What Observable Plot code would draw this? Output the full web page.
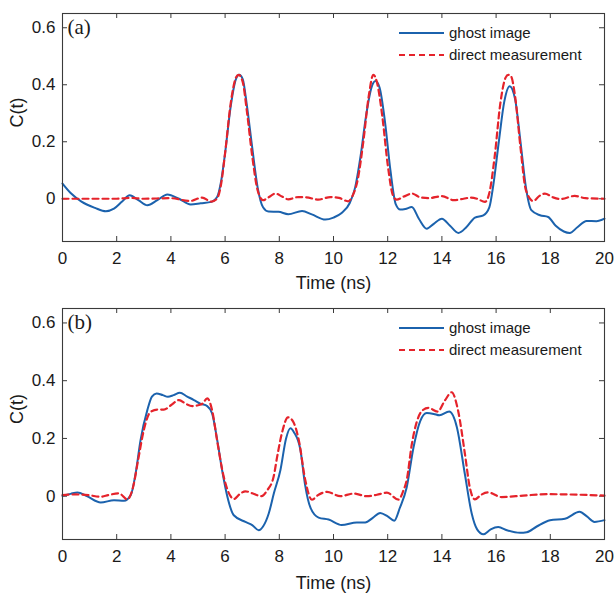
<!DOCTYPE html>
<html>
<head>
<meta charset="utf-8">
<script src="https://cdn.jsdelivr.net/npm/d3@7"></script>
<script src="https://cdn.jsdelivr.net/npm/@observablehq/plot@0.6"></script>
<style>
  html, body { margin: 0; padding: 0; background: #fff; }
  #chart { width: 616px; height: 594px; }
  #chart svg { display: block; }
</style>
</head>
<body>
<div id="chart"></div>
<script>
// ---------- data ----------
const xTicks = [0, 2, 4, 6, 8, 10, 12, 14, 16, 18, 20];
const yTicks = [0, 0.2, 0.4, 0.6];
const seriesNames = ["ghost image", "direct measurement"];
const panelLabels = ["(a)", "(b)"];

// Panel (a) ghost image
const tA_ghost = [0,0.3,0.7,1.2,1.6,1.9,2.2,2.48,2.8,3.13,3.5,3.87,4.3,4.73,5.1,5.5,5.7,5.85,6.0,6.2,6.4,6.52,6.65,6.8,7.0,7.2,7.4,7.6,7.97,8.33,8.84,9.2,9.7,10.0,10.3,10.6,10.8,11.0,11.2,11.4,11.55,11.7,11.9,12.1,12.3,12.46,12.65,12.89,13.15,13.44,13.7,14.0,14.3,14.61,14.9,15.22,15.53,15.75,15.9,16.1,16.3,16.5,16.7,16.9,17.1,17.3,17.62,17.92,18.2,18.5,18.72,19.0,19.34,19.7,20];
const vA_ghost = [0.053,0.02,-0.01,-0.032,-0.044,-0.035,-0.01,0.012,-0.005,-0.023,-0.005,0.015,0.0,-0.02,-0.016,-0.011,0.005,0.06,0.16,0.32,0.42,0.435,0.42,0.33,0.18,0.04,-0.03,-0.045,-0.046,-0.054,-0.043,-0.055,-0.073,-0.066,-0.05,-0.015,0.04,0.15,0.29,0.39,0.413,0.39,0.27,0.1,-0.02,-0.038,-0.036,-0.029,-0.07,-0.105,-0.088,-0.07,-0.095,-0.12,-0.1,-0.066,-0.058,-0.03,0.05,0.2,0.34,0.395,0.35,0.2,0.04,-0.04,-0.058,-0.064,-0.095,-0.115,-0.12,-0.1,-0.078,-0.079,-0.07];

// Panel (a) direct measurement
const tA_direct = [0,1,2,2.5,3,4,4.7,5.15,5.5,5.7,5.85,6.0,6.2,6.4,6.5,6.65,6.8,7.0,7.2,7.4,7.6,7.86,8.1,8.33,8.7,9.0,9.44,9.88,10.2,10.54,10.7,10.9,11.1,11.3,11.47,11.6,11.8,12.0,12.2,12.33,12.6,12.9,13.2,13.5,14.0,14.44,14.8,15.06,15.3,15.59,15.75,15.95,16.15,16.35,16.45,16.55,16.7,16.9,17.1,17.37,17.6,17.8,18.1,18.38,18.9,19.3,20];
const vA_direct = [0,0,0,0.003,0,0.002,-0.008,0.004,-0.01,0.0,0.05,0.16,0.33,0.425,0.435,0.41,0.31,0.15,0.03,-0.005,0.005,0.018,0.008,-0.002,0.006,0.005,-0.003,0.006,0.003,-0.009,0.01,0.07,0.2,0.36,0.435,0.41,0.29,0.12,0.01,-0.003,0.008,0.018,0.005,0.002,0.009,-0.005,0,0.004,0.0,-0.011,0.02,0.15,0.33,0.425,0.435,0.43,0.36,0.18,0.03,-0.008,0.01,0.018,0.005,-0.001,0.01,0.002,0];

// Panel (b) ghost image
const tB_ghost = [0,0.3,0.55,0.9,1.41,1.9,2.27,2.52,2.7,2.88,3.13,3.3,3.47,3.7,3.89,4.1,4.33,4.6,4.85,5.1,5.34,5.52,5.71,5.89,6.08,6.32,6.75,7.0,7.24,7.4,7.61,7.8,8.04,8.25,8.41,8.55,8.78,8.95,9.15,9.45,9.82,10.3,10.86,11.17,11.45,11.72,12.0,12.24,12.45,12.7,12.95,13.2,13.44,13.7,13.91,14.27,14.55,14.85,15.1,15.3,15.53,15.8,16.08,16.4,16.88,17.13,17.5,17.99,18.54,19.08,19.35,19.63,20];
const vB_ghost = [0.001,0.008,0.013,0.0,-0.022,-0.014,-0.016,0.004,0.08,0.194,0.298,0.345,0.356,0.35,0.344,0.35,0.358,0.345,0.333,0.32,0.312,0.287,0.194,0.09,0.0,-0.066,-0.089,-0.1,-0.118,-0.105,-0.06,0.01,0.09,0.2,0.235,0.22,0.16,0.04,-0.04,-0.074,-0.081,-0.1,-0.091,-0.091,-0.075,-0.058,-0.07,-0.085,-0.04,0.03,0.168,0.26,0.288,0.285,0.28,0.293,0.24,0.075,-0.06,-0.115,-0.132,-0.115,-0.107,-0.118,-0.127,-0.125,-0.105,-0.083,-0.078,-0.054,-0.07,-0.089,-0.083];

// Panel (b) direct measurement
const tB_direct = [0,0.5,1.0,1.4,1.7,2.08,2.39,2.6,2.8,3.0,3.25,3.5,3.74,4.0,4.3,4.55,4.79,5.0,5.16,5.34,5.52,5.71,5.95,6.2,6.32,6.55,6.75,7.0,7.35,7.55,7.79,7.92,8.1,8.32,8.5,8.72,8.96,9.2,9.45,9.76,10.25,10.74,11.23,11.6,11.97,12.4,12.58,12.7,12.89,13.26,13.5,13.84,14.12,14.36,14.6,14.85,15.03,15.22,15.45,15.71,16.2,17,17.86,19.08,20];
const vB_direct = [0.004,0.006,0.003,-0.002,0.004,0.01,-0.011,0.03,0.13,0.229,0.292,0.3,0.3,0.315,0.333,0.32,0.312,0.315,0.32,0.339,0.298,0.19,0.067,0.0,-0.01,0.008,0.017,0.01,0.0,0.02,0.067,0.136,0.22,0.273,0.26,0.194,0.055,-0.012,0.005,0.015,0.0,0.009,0.0,0.005,0.012,-0.012,0.02,0.055,0.18,0.295,0.306,0.293,0.333,0.36,0.295,0.146,0.03,-0.011,0.005,0.013,-0.003,0.002,0.007,0.005,0.002];

// ---------- styles ----------
const BLUE = "#1b62ad";
const RED = "#e5232b";
const AXIS = "#3a3a3a";
const FONT = "'Liberation Sans', Arial, sans-serif";

function toRows(ts, vs) { return ts.map((t, i) => ({t, v: vs[i]})); }

function panel(ghost, direct, label, opts) {
  const W = 616, H = 297;
  const mL = 62, mR = 12, mT = opts.mT, mB = opts.mB;
  const iw = W - mL - mR, ih = H - mT - mB, tk = 5;
  const plot = Plot.plot({
    width: W, height: H,
    marginLeft: mL, marginRight: mR, marginTop: mT, marginBottom: mB,
    style: {background: "#fff", fontFamily: FONT, color: "#1a1a1a", overflow: "visible"},
    x: {domain: [0, 20]},
    y: {domain: [-0.15, 0.65]},
    marks: [
      Plot.axisX(xTicks, {tickSize: 0, tickPadding: 10, fontSize: 17, label: null, tickFormat: d => String(d)}),
      Plot.axisY(yTicks, {tickSize: 0, tickPadding: 7, fontSize: 17, label: null, tickFormat: d => d === 0 ? "0" : d.toFixed(1)}),
      Plot.ruleX(xTicks.slice(1, -1), {insetTop: ih - tk, stroke: AXIS}),
      Plot.ruleX(xTicks.slice(1, -1), {insetBottom: ih - tk, stroke: AXIS}),
      Plot.ruleY(yTicks, {insetRight: iw - tk, stroke: AXIS}),
      Plot.ruleY(yTicks, {insetLeft: iw - tk, stroke: AXIS}),
      Plot.line(ghost, {x: "t", y: "v", curve: "monotone-x", stroke: BLUE, strokeWidth: 2}),
      Plot.line(direct, {x: "t", y: "v", curve: "monotone-x", stroke: RED, strokeWidth: 2.2, strokeDasharray: "6,4"}),
      Plot.frame({stroke: AXIS, strokeWidth: 1.1}),
      Plot.text(["Time (ns)"], {frameAnchor: "bottom", dy: opts.xLabelDy, fontSize: 18, lineAnchor: "middle", fill: "#1a1a1a"}),
      Plot.text(["C(t)"], {frameAnchor: "left", dx: -45, rotate: -90, fontSize: 18, lineAnchor: "middle", fill: "#1a1a1a"}),
      Plot.text([label], {frameAnchor: "top-left", dx: 5, dy: 14, textAnchor: "start", lineAnchor: "middle", fontSize: 21, fontFamily: "'Liberation Serif', 'DejaVu Serif', serif", fill: "#1a1a1a"})
    ]
  });
  // legend (inside, top right)
  const svg = d3.select(plot);
  const g = svg.append("g").attr("font-family", FONT).attr("font-size", 15).attr("fill", "#1a1a1a").attr("text-anchor", "start");
  const rows = [{name: seriesNames[0], stroke: BLUE, dash: null}, {name: seriesNames[1], stroke: RED, dash: "6,4"}];
  rows.forEach((r, i) => {
    const y = mT + 20 + i * 22;
    g.append("line").attr("x1", 399).attr("x2", 444).attr("y1", y).attr("y2", y)
      .attr("stroke", r.stroke).attr("stroke-width", 2).attr("stroke-dasharray", r.dash);
    g.append("text").attr("x", 449).attr("y", y).attr("dy", "0.35em").attr("text-anchor", "start").text(r.name);
  });
  return plot;
}

const root = document.getElementById("chart");
root.append(panel(toRows(tA_ghost, vA_ghost), toRows(tA_direct, vA_direct), panelLabels[0], {mT: 13, mB: 56, xLabelDy: 42}));
root.append(panel(toRows(tB_ghost, vB_ghost), toRows(tB_direct, vB_direct), panelLabels[1], {mT: 11, mB: 55, xLabelDy: 44}));
</script>
</body>
</html>
